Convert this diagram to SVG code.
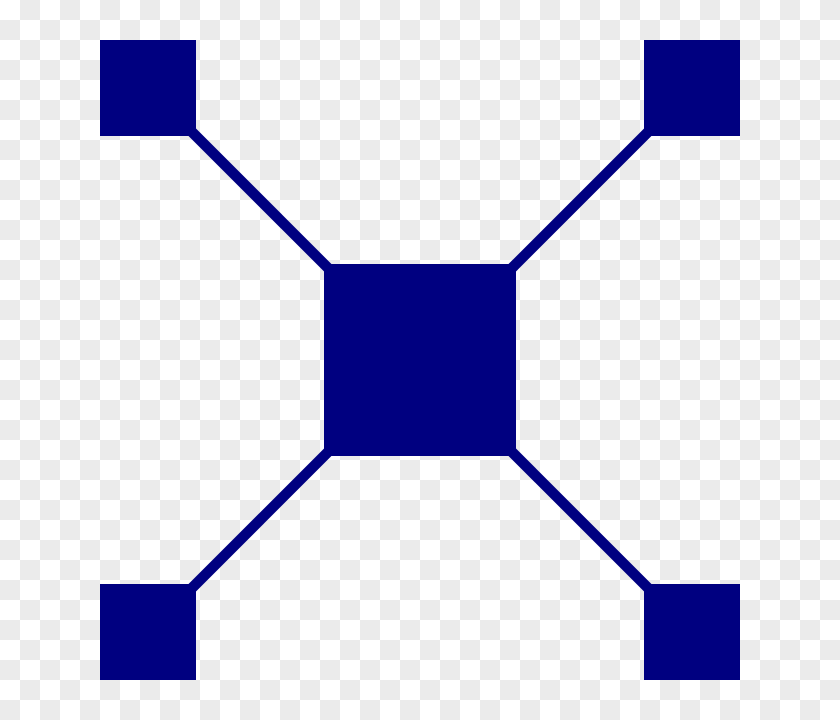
<svg xmlns="http://www.w3.org/2000/svg" width="840" height="720" viewBox="0 0 840 720">
<defs>
<pattern id="checker" x="0" y="0" width="40" height="40" patternUnits="userSpaceOnUse">
<rect width="40" height="40" fill="#ffffff"/>
<rect x="20" y="0" width="20" height="20" fill="#ebebeb"/>
<rect x="0" y="20" width="20" height="20" fill="#ebebeb"/>
</pattern>
<style>
.link{stroke:#000080;stroke-width:10.5;fill:none}
.node{fill:#000080}
</style>
</defs>
<rect width="840" height="720" fill="url(#checker)"/>
<g id="connectors">
<line class="link" x1="148" y1="88" x2="420" y2="360"/>
<line class="link" x1="692" y1="88" x2="420" y2="360"/>
<line class="link" x1="148" y1="632" x2="420" y2="360"/>
<line class="link" x1="692" y1="632" x2="420" y2="360"/>
</g>
<g id="center"><rect class="node" x="324" y="264" width="192" height="192"/></g>
<g id="top-left"><rect class="node" x="100" y="40" width="96" height="96"/></g>
<g id="top-right"><rect class="node" x="644" y="40" width="96" height="96"/></g>
<g id="bottom-left"><rect class="node" x="100" y="584" width="96" height="96"/></g>
<g id="bottom-right"><rect class="node" x="644" y="584" width="96" height="96"/></g>
</svg>
